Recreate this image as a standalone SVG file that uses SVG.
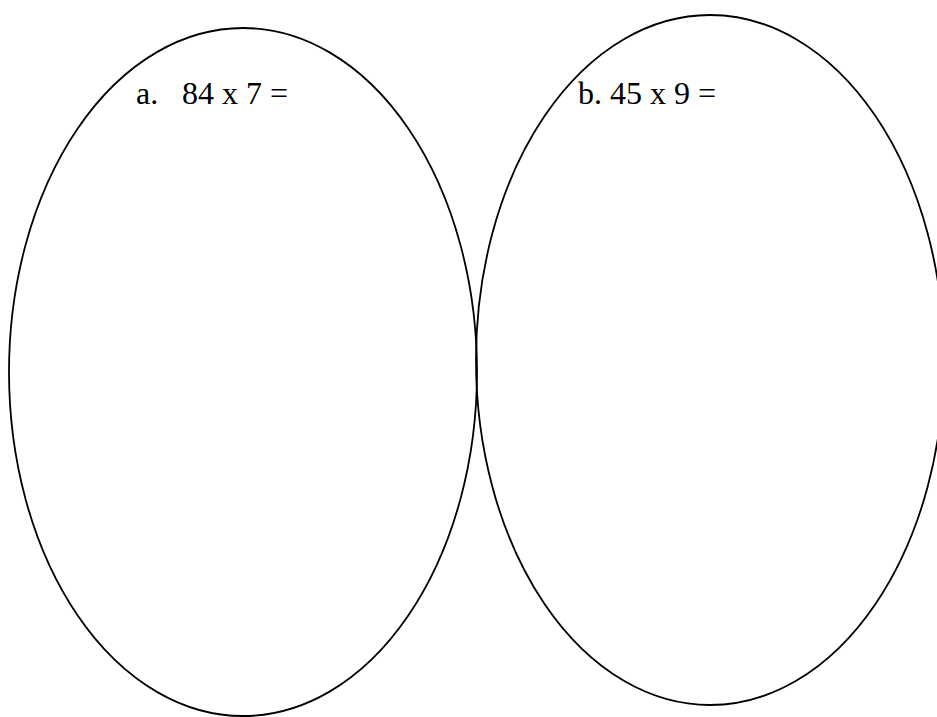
<svg xmlns="http://www.w3.org/2000/svg" width="937" height="717" viewBox="0 0 937 717">
<style>
.oval{fill:none;stroke:#000;stroke-width:1.8}
.lbl{font-family:"Liberation Serif","Times New Roman",serif;font-size:32px;fill:#000}
</style>
<rect width="937" height="717" fill="#fff"/>
<g id="oval-a">
<ellipse class="oval" cx="243" cy="372" rx="234" ry="344"/>
<text class="lbl" x="136" y="104">a.</text>
<text class="lbl" x="182" y="104">84 x 7 =</text>
</g>
<g id="oval-b">
<ellipse class="oval" cx="710" cy="360" rx="234" ry="345"/>
<text class="lbl" x="578" y="104">b. 45 x 9 =</text>
</g>
<g id="connectors"></g>
</svg>
